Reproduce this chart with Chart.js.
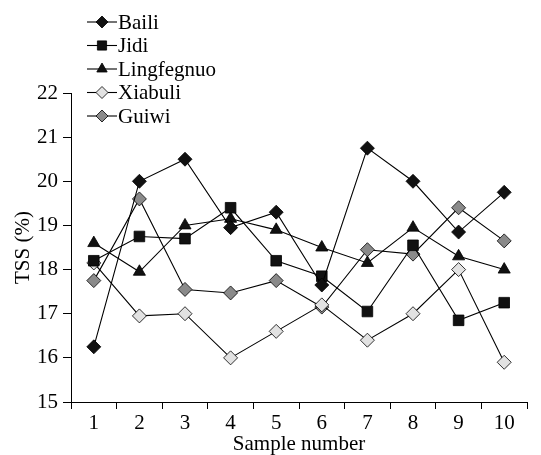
<!DOCTYPE html>
<html>
<head>
<meta charset="utf-8">
<script src="https://cdn.jsdelivr.net/npm/chart.js@4"></script>
<style>
html,body{margin:0;padding:0;background:#fff;}
#wrap{width:541px;height:455px;position:relative;}
</style>
</head>
<body>
<div id="wrap"><canvas id="c" width="541" height="455"></canvas></div>
<script>
const categories = ['1','2','3','4','5','6','7','8','9','10'];
const baili      = [16.25, 20.0, 20.5, 18.95, 19.3, 17.65, 20.75, 20.0, 18.85, 19.75];
const jidi       = [18.2, 18.75, 18.7, 19.4, 18.2, 17.85, 17.05, 18.55, 16.85, 17.25];
const lingfegnuo = [18.6, 17.95, 19.0, 19.15, 18.9, 18.5, 18.15, 18.95, 18.3, 18.0];
const xiabuli    = [18.15, 16.95, 17.0, 16.0, 16.6, 17.2, 16.4, 17.0, 18.0, 15.9];
const guiwi      = [17.75, 19.6, 17.55, 17.47, 17.75, 17.15, 18.45, 18.35, 19.4, 18.65];
const yTicks = [15, 16, 17, 18, 19, 20, 21, 22];

const serif = '"Liberation Serif", "Times New Roman", serif';

function ds(label, data, style, fill, radius) {
  return {
    label, data,
    borderColor: '#000', borderWidth: 1.1,
    pointStyle: style, pointRadius: radius, pointHoverRadius: radius,
    pointBackgroundColor: fill, pointBorderColor: '#000', pointBorderWidth: 0.8,
    tension: 0, fill: false
  };
}

const legendPlugin = {
  id: 'customLegend',
  afterDraw(chart) {
    const ctx = chart.ctx;
    const x0 = 87, x1 = 117, tx = 118;
    const ys = [22, 45.5, 69, 92.5, 116];
    chart.data.datasets.forEach((d, i) => {
      const y = ys[i];
      ctx.save();
      ctx.strokeStyle = '#000';
      ctx.lineWidth = 1.1;
      ctx.beginPath(); ctx.moveTo(x0, y); ctx.lineTo(x1, y); ctx.stroke();
      ctx.fillStyle = d.pointBackgroundColor;
      ctx.strokeStyle = '#000';
      ctx.lineWidth = 0.8;
      Chart.helpers.drawPoint(ctx, {pointStyle: d.pointStyle, radius: d.pointRadius - 1, borderWidth: 0.8, rotation: 0}, (x0 + x1) / 2, y);
      ctx.fillStyle = '#000';
      ctx.font = '21px ' + serif;
      ctx.textBaseline = 'middle';
      ctx.textAlign = 'left';
      ctx.fillText(d.label, tx, y + 1);
      ctx.restore();
    });
  }
};

new Chart(document.getElementById('c'), {
  type: 'line',
  data: {
    labels: categories,
    datasets: [
      ds('Baili', baili, 'rectRot', '#111', 7),
      ds('Jidi', jidi, 'rect', '#111', 7.5),
      ds('Lingfegnuo', lingfegnuo, 'triangle', '#111', 7),
      ds('Xiabuli', xiabuli, 'rectRot', '#e2e2e2', 7),
      ds('Guiwi', guiwi, 'rectRot', '#8a8a8a', 7)
    ]
  },
  options: {
    responsive: false,
    animation: false,
    layout: { padding: { top: 93, right: 14, left: 0, bottom: 0 } },
    plugins: { legend: { display: false }, tooltip: { enabled: false } },
    scales: {
      x: {
        type: 'category',
        offset: true,
        grid: { offset: true, drawOnChartArea: false, tickLength: 7, color: '#000', lineWidth: 1 },
        border: { color: '#000', width: 1 },
        ticks: { color: '#000', font: { family: serif, size: 21 }, padding: 2, maxRotation: 0 },
        title: { display: true, text: 'Sample number', color: '#000', font: { family: serif, size: 21 }, padding: { top: 0, bottom: -2 } },
        afterFit(scale) { scale.height = 53; }
      },
      y: {
        min: 15, max: 22,
        afterBuildTicks(scale) { scale.ticks = yTicks.map(v => ({ value: v })); },
        grid: { drawOnChartArea: false, tickLength: 8, color: '#000', lineWidth: 1 },
        border: { color: '#000', width: 1 },
        ticks: { color: '#000', font: { family: serif, size: 21 }, padding: 5 },
        title: { display: true, text: 'TSS (%)', color: '#000', font: { family: serif, size: 21 }, padding: { top: 11, bottom: 0 } },
        afterFit(scale) { scale.width = 71; }
      }
    }
  },
  plugins: [legendPlugin]
});
</script>
</body>
</html>
